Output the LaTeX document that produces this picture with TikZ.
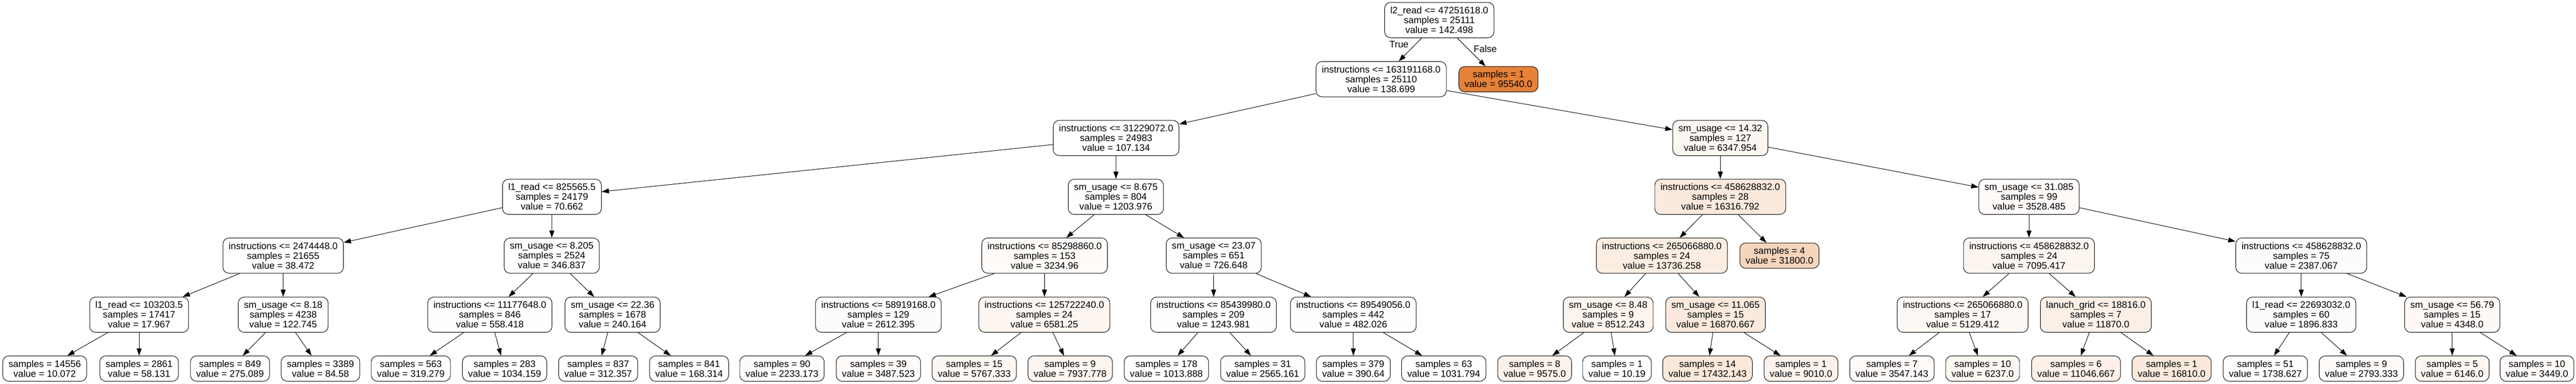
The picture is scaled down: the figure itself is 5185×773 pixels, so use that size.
\documentclass[tikz,border=0pt]{standalone}
\usepackage{fontspec}
\setmainfont{Liberation Sans}
\usetikzlibrary{arrows.meta}
\definecolor{treeorange}{RGB}{229,129,57}
\newcommand{\treefont}{\fontsize{14.3pt}{14.8pt}\selectfont}
\tikzset{
    box/.style={draw, line width=0.75pt, rounded corners=9pt, align=center,
                inner xsep=8.6pt, inner ysep=0pt, font=\treefont},
    split/.style={box, minimum height=53.25pt, fill=treeorange!#1!white},  % #1 为橙色的百分比
    leaf/.style={box, minimum height=38.25pt, fill=treeorange!#1!white},
    link/.style={->, line width=0.75pt}
}

\begin{document}
\begin{tikzpicture}[x=0.75pt, y=-0.75pt, >={Triangle[length=11pt, width=7.5pt]}]  % 坐标按像素算
    \useasboundingbox (0,0) rectangle (5185,773);

    % 根结点与第一层
    \node[split=0.15] (n0) at (2897,40.5) {l2\_read <= 47251618.0\\samples = 25111\\value = 142.498};
    \node[split=0.15] (n1) at (2780,159.5) {instructions <= 163191168.0\\samples = 25110\\value = 138.699};
    \node[leaf=100] (n2) at (3016,159.5) {samples = 1\\value = 95540.0};

    % 第二层、第三层
    \node[split=0.11] (n3) at (2246.5,278) {instructions <= 31229072.0\\samples = 24983\\value = 107.134};
    \node[split=6.6] (n4) at (3462.6,278) {sm\_usage <= 14.32\\samples = 127\\value = 6347.954};
    \node[split=0.07] (n5) at (1111,396.5) {l1\_read <= 825565.5\\samples = 24179\\value = 70.662};
    \node[split=1.26] (n6) at (2246,396.5) {sm\_usage <= 8.675\\samples = 804\\value = 1203.976};
    \node[split=17.1] (n7) at (3462.6,396.5) {instructions <= 458628832.0\\samples = 28\\value = 16316.792};
    \node[split=3.7] (n8) at (4084,396.5) {sm\_usage <= 31.085\\samples = 99\\value = 3528.485};

    % 第四层
    \node[split=0.04] (n9) at (570,515) {instructions <= 2474448.0\\samples = 21655\\value = 38.472};
    \node[split=0.36] (n10) at (1110.5,515) {sm\_usage <= 8.205\\samples = 2524\\value = 346.837};
    \node[split=3.4] (n11) at (2102.6,515) {instructions <= 85298860.0\\samples = 153\\value = 3234.96};
    \node[split=0.76] (n12) at (2443,515) {sm\_usage <= 23.07\\samples = 651\\value = 726.648};
    \node[split=14.4] (n13) at (3345,515) {instructions <= 265066880.0\\samples = 24\\value = 13736.258};
    \node[leaf=33.3] (n14) at (3581.6,515) {samples = 4\\value = 31800.0};
    \node[split=7.4] (n15) at (4084,515) {instructions <= 458628832.0\\samples = 24\\value = 7095.417};
    \node[split=2.5] (n16) at (4632,515) {instructions <= 458628832.0\\samples = 75\\value = 2387.067};

    % 第五层
    \node[split=0.02] (n17) at (280,634) {l1\_read <= 103203.5\\samples = 17417\\value = 17.967};
    \node[split=0.13] (n18) at (570,634) {sm\_usage <= 8.18\\samples = 4238\\value = 122.745};
    \node[split=0.58] (n19) at (986,634) {instructions <= 11177648.0\\samples = 846\\value = 558.418};
    \node[split=0.25] (n20) at (1233,634) {sm\_usage <= 22.36\\samples = 1678\\value = 240.164};
    \node[split=2.7] (n21) at (1768,634) {instructions <= 58919168.0\\samples = 129\\value = 2612.395};
    \node[split=6.9] (n22) at (2102,634) {instructions <= 125722240.0\\samples = 24\\value = 6581.25};
    \node[split=1.3] (n23) at (2442.6,634) {instructions <= 85439980.0\\samples = 209\\value = 1243.981};
    \node[split=0.5] (n24) at (2724,634) {instructions <= 89549056.0\\samples = 442\\value = 482.026};
    \node[split=8.9] (n25) at (3237,634) {sm\_usage <= 8.48\\samples = 9\\value = 8512.243};
    \node[split=17.7] (n26) at (3453,634) {sm\_usage <= 11.065\\samples = 15\\value = 16870.667};
    \node[split=5.4] (n27) at (3950.5,634) {instructions <= 265066880.0\\samples = 17\\value = 5129.412};
    \node[split=12.4] (n28) at (4218.5,634) {lanuch\_grid <= 18816.0\\samples = 7\\value = 11870.0};
    \node[split=2.0] (n29) at (4632,634) {l1\_read <= 22693032.0\\samples = 60\\value = 1896.833};
    \node[split=4.6] (n30) at (4935.8,634) {sm\_usage <= 56.79\\samples = 15\\value = 4348.0};

    % 叶结点
    \node[leaf=0] (n17a) at (90,742.5) {samples = 14556\\value = 10.072};
    \node[leaf=0.05] (n17b) at (280,742.5) {samples = 2861\\value = 58.131};
    \node[leaf=0.29] (n18a) at (463,742.5) {samples = 849\\value = 275.089};
    \node[leaf=0.09] (n18b) at (645,742.5) {samples = 3389\\value = 84.58};
    \node[leaf=0.33] (n19a) at (827,742.5) {samples = 563\\value = 319.279};
    \node[leaf=1.1] (n19b) at (1015.7,742.5) {samples = 283\\value = 1034.159};
    \node[leaf=0.33] (n20a) at (1204,742.5) {samples = 837\\value = 312.357};
    \node[leaf=0.18] (n20b) at (1387,742.5) {samples = 841\\value = 168.314};
    \node[leaf=2.3] (n21a) at (1574,742.5) {samples = 90\\value = 2233.173};
    \node[leaf=3.6] (n21b) at (1768,742.5) {samples = 39\\value = 3487.523};
    \node[leaf=6.0] (n22a) at (1961,742.5) {samples = 15\\value = 5767.333};
    \node[leaf=8.3] (n22b) at (2154,742.5) {samples = 9\\value = 7937.778};
    \node[leaf=1.1] (n23a) at (2347.7,742.5) {samples = 178\\value = 1013.888};
    \node[leaf=2.7] (n23b) at (2541.6,742.5) {samples = 31\\value = 2565.161};
    \node[leaf=0.4] (n24a) at (2724,742.5) {samples = 379\\value = 390.64};
    \node[leaf=1.1] (n24b) at (2906,742.5) {samples = 63\\value = 1031.794};
    \node[leaf=10.0] (n25a) at (3089,742.5) {samples = 8\\value = 9575.0};
    \node[leaf=0] (n25b) at (3254.6,742.5) {samples = 1\\value = 10.19};
    \node[leaf=18.2] (n26a) at (3437,742.5) {samples = 14\\value = 17432.143};
    \node[leaf=9.4] (n26b) at (3625,742.5) {samples = 1\\value = 9010.0};
    \node[leaf=3.7] (n27a) at (3808,742.5) {samples = 7\\value = 3547.143};
    \node[leaf=6.5] (n27b) at (3990.7,742.5) {samples = 10\\value = 6237.0};
    \node[leaf=11.6] (n28a) at (4178.6,742.5) {samples = 6\\value = 11046.667};
    \node[leaf=17.6] (n28b) at (4371,742.5) {samples = 1\\value = 16810.0};
    \node[leaf=1.8] (n29a) at (4559.7,742.5) {samples = 51\\value = 1738.627};
    \node[leaf=2.9] (n29b) at (4753,742.5) {samples = 9\\value = 2793.333};
    \node[leaf=6.4] (n30a) at (4935.8,742.5) {samples = 5\\value = 6146.0};
    \node[leaf=3.6] (n30b) at (5106.4,742.5) {samples = 10\\value = 3449.0};

    % 连线
    \draw[link] (n0) -- node[pos=0.28, left=6.5pt, font=\treefont]{True} (n1);
    \draw[link] (n0) -- node[pos=0.39, right=4.5pt, font=\treefont]{False} (n2);
    \draw[link] (n1) -- (n3);   \draw[link] (n1) -- (n4);
    \draw[link] (n3) -- (n5);   \draw[link] (n3) -- (n6);
    \draw[link] (n4) -- (n7);   \draw[link] (n4) -- (n8);
    \draw[link] (n5) -- (n9);   \draw[link] (n5) -- (n10);
    \draw[link] (n6) -- (n11);  \draw[link] (n6) -- (n12);
    \draw[link] (n7) -- (n13);  \draw[link] (n7) -- (n14);
    \draw[link] (n8) -- (n15);  \draw[link] (n8) -- (n16);
    \draw[link] (n9) -- (n17);  \draw[link] (n9) -- (n18);
    \draw[link] (n10) -- (n19); \draw[link] (n10) -- (n20);
    \draw[link] (n11) -- (n21); \draw[link] (n11) -- (n22);
    \draw[link] (n12) -- (n23); \draw[link] (n12) -- (n24);
    \draw[link] (n13) -- (n25); \draw[link] (n13) -- (n26);
    \draw[link] (n15) -- (n27); \draw[link] (n15) -- (n28);
    \draw[link] (n16) -- (n29); \draw[link] (n16) -- (n30);
    \draw[link] (n17) -- (n17a); \draw[link] (n17) -- (n17b);
    \draw[link] (n18) -- (n18a); \draw[link] (n18) -- (n18b);
    \draw[link] (n19) -- (n19a); \draw[link] (n19) -- (n19b);
    \draw[link] (n20) -- (n20a); \draw[link] (n20) -- (n20b);
    \draw[link] (n21) -- (n21a); \draw[link] (n21) -- (n21b);
    \draw[link] (n22) -- (n22a); \draw[link] (n22) -- (n22b);
    \draw[link] (n23) -- (n23a); \draw[link] (n23) -- (n23b);
    \draw[link] (n24) -- (n24a); \draw[link] (n24) -- (n24b);
    \draw[link] (n25) -- (n25a); \draw[link] (n25) -- (n25b);
    \draw[link] (n26) -- (n26a); \draw[link] (n26) -- (n26b);
    \draw[link] (n27) -- (n27a); \draw[link] (n27) -- (n27b);
    \draw[link] (n28) -- (n28a); \draw[link] (n28) -- (n28b);
    \draw[link] (n29) -- (n29a); \draw[link] (n29) -- (n29b);
    \draw[link] (n30) -- (n30a); \draw[link] (n30) -- (n30b);
\end{tikzpicture}
\end{document}
